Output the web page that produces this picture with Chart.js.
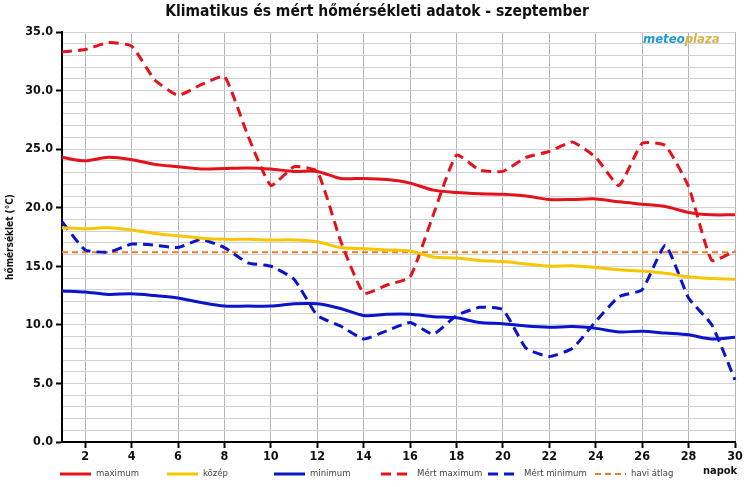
<!DOCTYPE html>
<html>
<head>
<meta charset="utf-8">
<script src="https://cdn.jsdelivr.net/npm/chart.js@4.4.1/dist/chart.umd.min.js"></script>
<style>
  html, body { margin: 0; padding: 0; background: #fff; }
</style>
</head>
<body>
<canvas id="chart" width="750" height="487"></canvas>
<script>
var days = [1, 2, 3, 4, 5, 6, 7, 8, 9, 10, 11, 12, 13, 14, 15, 16, 17, 18, 19, 20, 21, 22, 23, 24, 25, 26, 27, 28, 29, 30];

var maximum = [24.3, 24.0, 24.3, 24.1, 23.7, 23.5, 23.3, 23.35, 23.4, 23.3, 23.1, 23.1, 22.5, 22.5, 22.4, 22.1, 21.5, 21.3, 21.2, 21.15, 21.0, 20.7, 20.7, 20.75, 20.5, 20.3, 20.1, 19.6, 19.4, 19.4];
var kozep = [18.3, 18.2, 18.3, 18.1, 17.8, 17.6, 17.4, 17.3, 17.3, 17.25, 17.25, 17.1, 16.6, 16.5, 16.4, 16.3, 15.8, 15.7, 15.5, 15.4, 15.2, 15.0, 15.05, 14.9, 14.7, 14.6, 14.4, 14.1, 13.95, 13.9];
var minimum = [12.9, 12.8, 12.6, 12.65, 12.5, 12.3, 11.9, 11.6, 11.6, 11.6, 11.8, 11.8, 11.4, 10.8, 10.9, 10.9, 10.7, 10.6, 10.2, 10.1, 9.9, 9.8, 9.85, 9.7, 9.4, 9.45, 9.3, 9.15, 8.8, 8.95];
var mertMaximum = [33.3, 33.5, 34.1, 33.8, 30.9, 29.6, 30.5, 31.2, 26.2, 21.9, 23.5, 23.1, 17.2, 12.7, 13.4, 14.1, 19.4, 24.5, 23.2, 23.1, 24.3, 24.8, 25.6, 24.3, 21.9, 25.5, 25.3, 21.8, 15.5, 16.3];
var mertMinimum = [18.8, 16.4, 16.2, 16.9, 16.8, 16.6, 17.3, 16.6, 15.3, 15.0, 13.9, 10.8, 9.9, 8.8, 9.5, 10.2, 9.2, 10.8, 11.5, 11.3, 8.0, 7.3, 8.0, 10.3, 12.4, 13.0, 16.8, 12.3, 10.0, 5.3];
var haviAtlag = 16.2;

var TITLE = "Klimatikus és mért hőmérsékleti adatok - szeptember";
var FONT = "'DejaVu Sans Condensed', 'DejaVu Sans', sans-serif";

// title, legend, "napok" and logo drawn in fixed cells like the original
var extras = {
    id: "extras",
    afterDraw: function(chart) {
        var ctx = chart.ctx;
        var sets = chart.data.datasets;
        ctx.save();

        ctx.fillStyle = "#111";
        ctx.font = "bold 15.5px " + FONT;
        ctx.textAlign = "center";
        ctx.textBaseline = "middle";
        ctx.fillText(TITLE, 377, 12);

        for (var i = 0; i < sets.length; i++) {
            var ds = sets[i];
            var x0 = 60 + i * 107;
            var y0 = 474;
            ctx.beginPath();
            ctx.strokeStyle = ds.borderColor;
            ctx.lineWidth = ds.borderWidth;
            ctx.setLineDash(ds.borderDash || []);
            ctx.moveTo(x0, y0);
            ctx.lineTo(x0 + 31, y0);
            ctx.stroke();
            ctx.setLineDash([]);
            ctx.fillStyle = "#444";
            ctx.font = "9.5px " + FONT;
            ctx.textAlign = "left";
            ctx.fillText(ds.label, x0 + 36, y0);
        }
        ctx.fillStyle = "#111";
        ctx.font = "bold 11px " + FONT;
        ctx.textAlign = "center";
        ctx.fillText("napok", 720, 471);

        ctx.font = "italic bold 13px " + FONT;
        ctx.textAlign = "left";
        ctx.fillStyle = "#1e9ad6";
        ctx.fillText("meteo", 643, 40);
        var w = ctx.measureText("meteo").width;
        ctx.fillStyle = "#d9b44a";
        ctx.fillText("plaza", 643 + w, 40);
        ctx.restore();
    }
};

var ctx1 = document.getElementById("chart");

var data1 = {
    labels: days,
    datasets: [
        {
            label: "maximum",
            data: maximum,
            borderColor: "#e3121b",
            borderWidth: 3,
            tension: 0.3
        },
        {
            label: "közép",
            data: kozep,
            borderColor: "#f7c600",
            borderWidth: 3,
            tension: 0.3
        },
        {
            label: "minimum",
            data: minimum,
            borderColor: "#0a14c8",
            borderWidth: 3,
            tension: 0.3
        },
        {
            label: "Mért maximum",
            data: mertMaximum,
            borderColor: "#e3121b",
            borderWidth: 3,
            borderDash: [10, 6],
            tension: 0.15
        },
        {
            label: "Mért minimum",
            data: mertMinimum,
            borderColor: "#0a14c8",
            borderWidth: 3,
            borderDash: [10, 6],
            tension: 0.15
        },
        {
            label: "havi átlag",
            data: days.map(function() { return haviAtlag; }),
            borderColor: "#f07a22",
            borderWidth: 2,
            borderDash: [6, 4],
            tension: 0
        }
    ]
};

var options1 = {
    responsive: false,
    animation: false,
    events: [],
    layout: {
        padding: { left: 0, right: 15, top: 32, bottom: 20 }
    },
    elements: {
        point: { radius: 0 }
    },
    plugins: {
        legend: { display: false },
        tooltip: { enabled: false },
        title: { display: false }
    },
    scales: {
        x: {
            type: "category",
            offset: false,
            afterFit: function(scale) { scale.height = 25; },
            border: { display: true, color: "#000", width: 2 },
            grid: {
                color: function(c) { return c.index % 2 === 1 ? "#b4b4b4" : "rgba(0,0,0,0)"; },
                tickColor: function(c) { return c.index % 2 === 1 ? "#000" : "rgba(0,0,0,0)"; },
                tickLength: 6,
                lineWidth: 1,
                tickWidth: 2
            },
            ticks: {
                autoSkip: false,
                maxRotation: 0,
                padding: 1,
                color: "#111",
                font: { family: FONT, size: 12.5, weight: "bold" },
                callback: function(value, index) {
                    return index % 2 === 1 ? this.getLabelForValue(value) : "";
                }
            }
        },
        y: {
            min: 0,
            max: 35,
            afterFit: function(scale) { scale.width = 62; },
            border: { display: true, color: "#000", width: 2 },
            grid: {
                color: "#d2d2d2",
                tickColor: function(c) { return c.tick && c.tick.value % 5 === 0 ? "#000" : "rgba(0,0,0,0)"; },
                tickLength: 6,
                lineWidth: 1,
                tickWidth: 2
            },
            ticks: {
                autoSkip: false,
                stepSize: 1,
                padding: 3,
                color: "#111",
                font: { family: FONT, size: 12.5, weight: "bold" },
                callback: function(v) { return v % 5 === 0 ? v.toFixed(1) : ""; }
            },
            title: {
                display: true,
                text: "hőmérséklet (°C)",
                color: "#111",
                font: { family: FONT, size: 10, weight: "bold" },
                padding: { top: 4, bottom: 0 }
            }
        }
    }
};

var chart1 = new Chart(ctx1, {
    type: "line",
    data: data1,
    options: options1,
    plugins: [extras]
});
</script>
</body>
</html>
